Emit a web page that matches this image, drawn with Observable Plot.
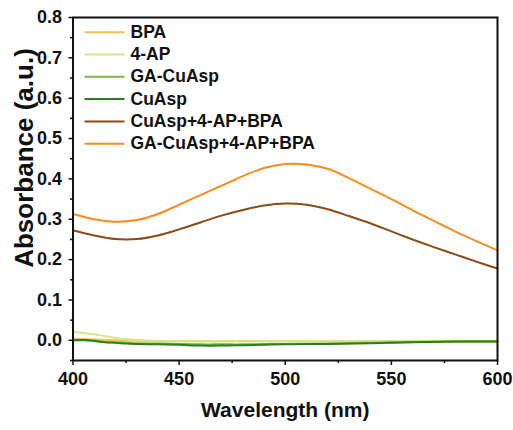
<!DOCTYPE html>
<html><head><meta charset="utf-8">
<script src="https://cdn.jsdelivr.net/npm/d3@7"></script>
<script src="https://cdn.jsdelivr.net/npm/@observablehq/plot@0.6"></script>
<style>body{margin:0;background:#fff;}</style>
</head><body><div id="chart"></div>
<script>
const seriesNames = ["BPA", "4-AP", "GA-CuAsp", "CuAsp", "CuAsp+4-AP+BPA", "GA-CuAsp+4-AP+BPA"];
const seriesColors = ["#f6c04c", "#d5e687", "#80b548", "#2a7f1f", "#8c4a15", "#f98c1f"];

const wlMain = [400, 410, 420, 430, 440, 450, 460, 470, 480, 490, 500, 510, 520, 530, 540, 550, 560, 570, 580, 590, 600];
const gaMix = [0.313, 0.300, 0.294, 0.298, 0.313, 0.336, 0.360, 0.383, 0.407, 0.427, 0.437, 0.436, 0.425, 0.402, 0.376, 0.350, 0.322, 0.296, 0.270, 0.246, 0.223];
const cuMix = [0.273, 0.260, 0.251, 0.251, 0.260, 0.275, 0.292, 0.309, 0.323, 0.334, 0.339, 0.336, 0.325, 0.308, 0.290, 0.270, 0.250, 0.231, 0.213, 0.195, 0.178];

const wlLow = [400, 405, 410, 415, 420, 425, 430, 440, 450, 460, 470, 480, 490, 500, 520, 540, 560, 580, 600];
const bpa = [0.004, 0.003, 0.002, 0.001, 0.000, -0.001, -0.001, -0.002, -0.002, -0.002, -0.002, -0.002, -0.002, -0.002, -0.002, -0.002, -0.002, -0.003, -0.003];
const ap4 = [0.021, 0.018, 0.015, 0.010, 0.006, 0.003, 0.001, -0.001, -0.002, -0.002, -0.002, -0.002, -0.002, -0.002, -0.002, -0.002, -0.002, -0.003, -0.003];
const gaCuAsp = [0.000, 0.000, -0.002, -0.004, -0.005, -0.006, -0.007, -0.008, -0.009, -0.010, -0.010, -0.010, -0.009, -0.009, -0.008, -0.006, -0.004, -0.003, -0.002];
const cuAsp = [0.000, 0.001, -0.001, -0.005, -0.006, -0.008, -0.009, -0.010, -0.011, -0.013, -0.013, -0.012, -0.011, -0.010, -0.009, -0.007, -0.005, -0.003, -0.003];

const yMajor = [0, 0.1, 0.2, 0.3, 0.4, 0.5, 0.6, 0.7, 0.8];
const yMinor = [-0.05, 0.05, 0.15, 0.25, 0.35, 0.45, 0.55, 0.65, 0.75];
const xMajor = [400, 450, 500, 550, 600];
const xMinor = [425, 475, 525, 575];

const lowSeries = [bpa, ap4, gaCuAsp, cuAsp];
const rows = [];
lowSeries.forEach((vals, s) => vals.forEach((v, i) => rows.push({name: seriesNames[s], x: wlLow[i], y: v})));
cuMix.forEach((v, i) => rows.push({name: seriesNames[4], x: wlMain[i], y: v}));
gaMix.forEach((v, i) => rows.push({name: seriesNames[5], x: wlMain[i], y: v}));

const font = "Liberation Sans, Arial, Helvetica, sans-serif";
const lineSymbol = {draw(ctx) { ctx.moveTo(-20, 0); ctx.lineTo(20, 0); }};

const legendMarks = [];
seriesNames.forEach((name, i) => {
  legendMarks.push(Plot.dot([name], {frameAnchor: "top-left", dx: 31.5, dy: 14.7 + 22.3 * i, symbol: lineSymbol, r: 5, stroke: seriesColors[i], strokeWidth: 2, fill: "none"}));
  legendMarks.push(Plot.text([name], {frameAnchor: "top-left", dx: 57.5, dy: 14.7 + 22.3 * i, text: d => d, textAnchor: "start", lineAnchor: "middle", fontSize: 17.5, fontWeight: "bold", fill: "#111"}));
});

const chart = Plot.plot({
  width: 513,
  height: 430,
  marginLeft: 72.5,
  marginRight: 16,
  marginTop: 17,
  marginBottom: 70,
  style: {fontFamily: font, background: "#fff", color: "#111"},
  x: {domain: [400, 600]},
  y: {domain: [-0.05, 0.8]},
  color: {domain: seriesNames, range: seriesColors},
  marks: [
    Plot.line(rows, {x: "x", y: "y", z: "name", stroke: "name", strokeWidth: 2, curve: "catmull-rom"}),
    Plot.axisY({ticks: yMajor, tickSize: 4, tickPadding: 7, tickFormat: d => d.toFixed(1), fontSize: 18, fontWeight: "bold", strokeWidth: 1.5, label: null}),
    Plot.axisY({ticks: yMinor, tickSize: 2.5, tickFormat: () => "", strokeWidth: 1.5, label: null}),
    Plot.axisX({ticks: xMajor, tickSize: 5, tickPadding: 7, tickFormat: d => String(d), fontSize: 18, fontWeight: "bold", strokeWidth: 1.5, label: null}),
    Plot.axisX({ticks: xMinor, tickSize: 3, tickFormat: () => "", strokeWidth: 1.5, label: null}),
    Plot.frame({stroke: "#111", strokeWidth: 2}),
    ...legendMarks,
    Plot.text(["Wavelength (nm)"], {frameAnchor: "bottom", dy: 50, text: d => d, textAnchor: "middle", lineAnchor: "middle", fontSize: 21, fontWeight: "bold", fill: "#111"}),
    Plot.text(["Absorbance (a.u.)"], {frameAnchor: "left", dx: -48, dy: -31, rotate: -90, text: d => d, textAnchor: "middle", lineAnchor: "middle", fontSize: 26, fontWeight: "bold", fill: "#111"})
  ]
});
document.getElementById("chart").append(chart);
</script>
</body></html>
